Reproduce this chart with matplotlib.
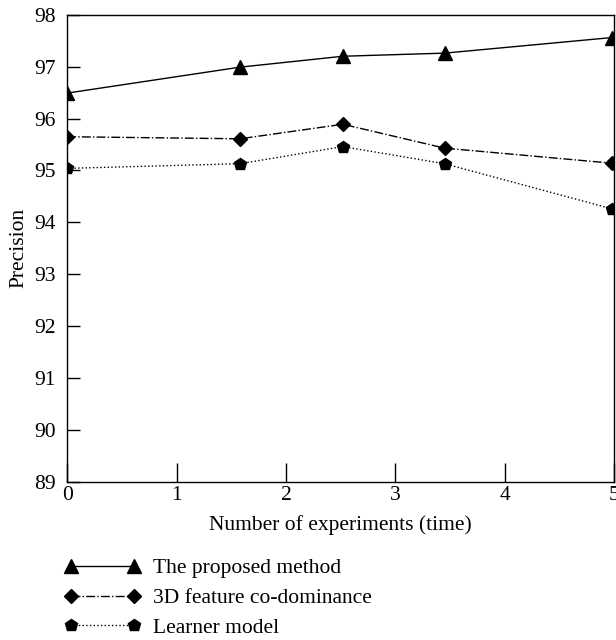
import numpy as np
import matplotlib.pyplot as plt

plt.rcParams['font.family'] = ['Liberation Serif', 'DejaVu Serif']
plt.rcParams['mathtext.fontset'] = 'stix'

# data
runs = [0, 1.58, 2.52, 3.45, 4.98]
proposed = [96.49, 96.99, 97.20, 97.26, 97.56]
feature_3d = [95.65, 95.61, 95.89, 95.43, 95.14]
learner = [95.04, 95.13, 95.46, 95.13, 94.26]

x_ticks = [0, 1, 2, 3, 4, 5]
y_ticks = [89, 90, 91, 92, 93, 94, 95, 96, 97, 98]

fs = 15.5

fig = plt.figure(figsize=(6.16, 6.4), dpi=100)
ax = fig.add_axes([0.109, 0.247, 0.888, 0.730])

ax.plot(runs, proposed, 'k-', marker='^', markersize=10, lw=1.0,
        label='The proposed method')
ax.plot(runs, feature_3d, 'k-.', marker='D', markersize=7, lw=1.0,
        label='3D feature co-dominance')
ax.plot(runs, learner, 'k:', marker='p', markersize=9, lw=1.0,
        label='Learner model')

ax.set_xlim(0, 5)
ax.set_ylim(89, 98)
ax.set_xticks(x_ticks)
ax.set_yticks(y_ticks)
ax.tick_params(axis='x', direction='in', length=14, width=1, labelsize=fs, pad=3)
ax.tick_params(axis='y', direction='in', length=9, width=1, labelsize=fs, pad=8)
for s in ax.spines.values():
    s.set_linewidth(1.0)

ax.set_xlabel('Number of experiments (time)', fontsize=fs, labelpad=7)
ax.set_ylabel('Precision', fontsize=fs, labelpad=4)

ax.legend(loc='upper left', bbox_to_anchor=(-0.02, -0.145), frameon=False,
          numpoints=2, handlelength=3.5, handletextpad=0.6, labelspacing=0.45,
          fontsize=fs, borderaxespad=0)

fig.savefig('out.png', dpi=100)
